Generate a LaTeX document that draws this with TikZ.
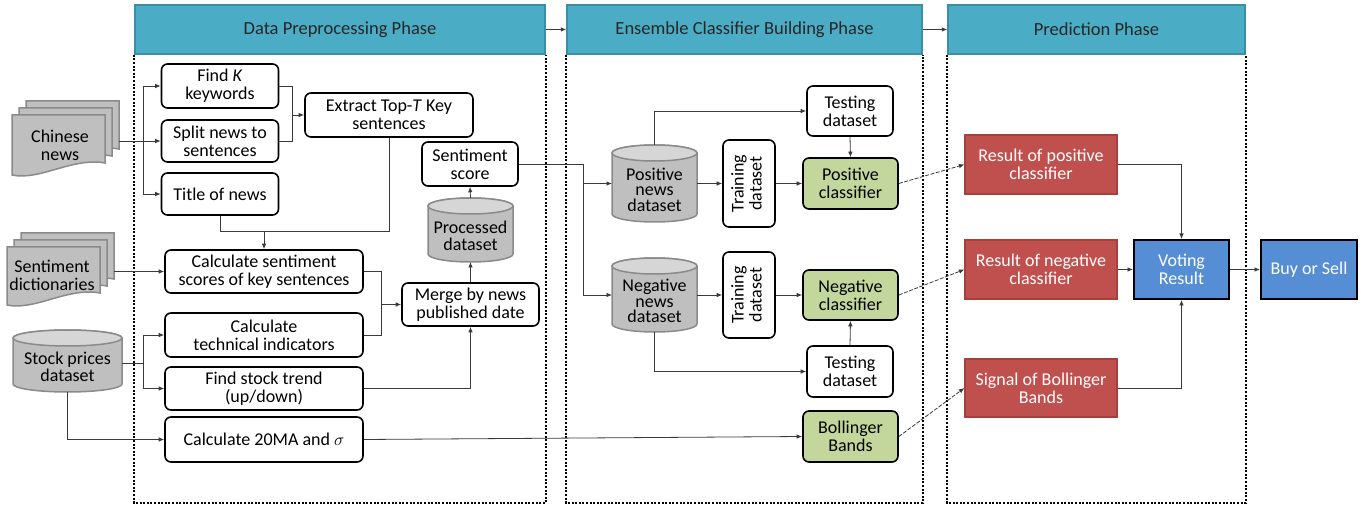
\documentclass[tikz,border=0pt]{standalone}
\usepackage{fontspec}
\setmainfont{Carlito}
\usetikzlibrary{arrows.meta,calc}
\definecolor{hdrfill}{HTML}{4BACC6}
\definecolor{hdrdraw}{HTML}{3A8EA5}
\definecolor{clfgreen}{HTML}{C3D69B}
\definecolor{resred}{HTML}{C0504D}
\definecolor{resborder}{HTML}{A5403D}
\definecolor{voteblue}{HTML}{558ED5}
\definecolor{cylgray}{HTML}{BFBFBF}
\definecolor{cyltopgray}{HTML}{D6D6D6}
\definecolor{cylborder}{HTML}{8A8A8A}
\definecolor{linegray}{HTML}{3A3A3A}
\newcommand\cylnode[6]{%
  \node[cylanchor, minimum width=#4pt, minimum height=#5pt] (#1) at (#2,#3) {};
  \path[cylbody] ([yshift=-8pt]#1.north west) -- ([yshift=8pt]#1.south west)
     arc[start angle=180, end angle=360, x radius=#4/2, y radius=8]
     -- ([yshift=-8pt]#1.north east)
     arc[start angle=0, end angle=180, x radius=#4/2, y radius=8] -- cycle;
  \path[cyltop] ([yshift=-8pt]#1.north) ellipse[x radius=#4/2, y radius=8];
  \node[cyltext] (#1-t) at ([yshift=-6pt]#1.center) {#6};
}
\newcommand\onedoc[4]{% left, top, width, height
  \path[docshape] (#1,#2) -- ({#1+#3},#2) -- ({#1+#3},{#2-#4+12})
    .. controls ({#1+0.65*#3},{#2-#4+18}) and ({#1+0.3*#3},{#2-#4-6}) .. (#1,{#2-#4}) -- cycle;
}
\newcommand\docstack[7]{% name, left, top, width, height, text x, text y
  \node[cylanchor, minimum width={#4+14}, minimum height={#5+14}, anchor=north west] (#1) at (#2,{#3+14}) {};
  \onedoc{#2+14}{#3+14}{#4}{#5}
  \onedoc{#2+7}{#3+7}{#4}{#5}
  \onedoc{#2}{#3}{#4}{#5}
  \node[doctext] (#1-t) at (#6,#7)
}
\begin{document}
\begin{tikzpicture}[x=1pt,y=1pt,
  txt/.style={font=\fontsize{18}{18}\selectfont, align=center, inner sep=1pt},
  wbox/.style={txt, draw=black, line width=1.6pt, rounded corners=6pt, fill=white},
  gbox/.style={wbox, fill=clfgreen},
  rbox/.style={txt, draw=resborder, line width=1.2pt, fill=resred, text=white},
  bluebox/.style={txt, draw=black, line width=2pt, fill=voteblue, text=white},
  hdr/.style={txt, font=\fontsize{18.5}{19}\selectfont, draw=hdrdraw, line width=1.5pt, fill=hdrfill, text=black!85},
  phase/.style={draw=black, line width=2pt, dash pattern=on 2pt off 1.6pt},
  conn/.style={draw=linegray, line width=0.8pt},
  arr/.style={conn, -{Latex[length=5.5pt,width=4.5pt]}},
  darr/.style={arr, dash pattern=on 4pt off 1.5pt},
  cylanchor/.style={inner sep=0pt, outer sep=0pt, draw=none},
  cylbody/.style={fill=cylgray, draw=cylborder, line width=1.5pt},
  cyltop/.style={fill=cyltopgray, draw=cylborder, line width=1.5pt},
  docshape/.style={fill=cylgray, draw=cylborder, line width=1.5pt},
  cyltext/.style={font=\fontsize{18}{15.5}\selectfont, align=center, inner sep=0pt},
  doctext/.style={font=\fontsize{18}{18}\selectfont, align=center, inner sep=0pt},
]
\useasboundingbox (0,0) rectangle (1371,-510);

% phase headers
\node[hdr, minimum width=410pt, minimum height=49pt] (h1) at (340,-29.5) {Data Preprocessing Phase};
\node[hdr, minimum width=355pt, minimum height=49pt] (h2) at (744.5,-29.5) {Ensemble Classifier Building Phase};
\node[hdr, minimum width=297pt, minimum height=49pt] (h3) at (1096.5,-29.5) {Prediction Phase};
\draw[phase] (h1.south west) -- (h1.south west |- 0,-503) -| (h1.south east);
\draw[phase] (h2.south west) -- (h2.south west |- 0,-503) -| (h2.south east);
\draw[phase] (h3.south west) -- (h3.south west |- 0,-503) -| (h3.south east);
\draw[arr] (h1.east) -- (h2.west);
\draw[arr] (h2.east) -- (h3.west);

% inputs
\docstack{cn}{12}{-115}{93}{60}{60}{-145}{Chinese\\news};
\docstack{sd}{7}{-247}{93}{58}{52}{-275}{Sentiment\\dictionaries};
\cylnode{stock}{67.5}{-361}{109}{62}{Stock prices\\[2pt]dataset}

% preprocessing
\node[wbox, minimum width=117pt, minimum height=44pt] (findk) at (220,-86) {Find \textit{K}\\keywords};
\node[wbox, minimum width=117pt, minimum height=42pt] (split) at (220,-141) {Split news to\\sentences};
\node[wbox, minimum width=117pt, minimum height=42pt] (title) at (220,-194) {Title of news};
\node[wbox, minimum width=168pt, minimum height=44pt] (extract) at (389,-115) {Extract Top-\textit{T} Key\\sentences};
\node[wbox, minimum width=96pt, minimum height=44pt] (score) at (470,-164) {Sentiment\\score};
\cylnode{proc}{470.5}{-230}{85}{64}{Processed\\[2pt]dataset}
\node[wbox, minimum width=198pt, minimum height=43pt] (calcsent) at (264,-271.5) {Calculate sentiment\\scores of key sentences};
\node[wbox, minimum width=137pt, minimum height=43pt] (merge) at (470.5,-304.5) {Merge by news\\published date};
\node[wbox, minimum width=198pt, minimum height=44pt] (calctech) at (264,-335) {Calculate\\technical indicators};
\node[wbox, minimum width=198pt, minimum height=43pt] (trend) at (264,-388.5) {Find stock trend\\(up/down)};
\node[wbox, minimum width=198pt, minimum height=45pt] (calc20) at (264,-439.5) {Calculate 20MA and $\sigma$};

% ensemble
\node[wbox, minimum width=86pt, minimum height=50pt] (testtop) at (850,-111) {Testing\\dataset};
\cylnode{pos}{654.5}{-183.5}{85}{77}{Positive\\news\\dataset}
\node[wbox, minimum width=52pt, minimum height=87pt] (trainpos) at (749,-183.5) {\rotatebox{90}{\begin{tabular}{@{}c@{}}Training\\dataset\end{tabular}}};
\node[gbox, minimum width=95pt, minimum height=51pt] (posclf) at (850.5,-183.5) {Positive\\classifier};
\cylnode{neg}{654.5}{-295}{85}{74}{Negative\\news\\dataset}
\node[wbox, minimum width=52pt, minimum height=86pt] (trainneg) at (749,-295) {\rotatebox{90}{\begin{tabular}{@{}c@{}}Training\\dataset\end{tabular}}};
\node[gbox, minimum width=95pt, minimum height=50pt] (negclf) at (850.5,-295) {Negative\\classifier};
\node[wbox, minimum width=86pt, minimum height=51pt] (testbot) at (850,-371.5) {Testing\\dataset};
\node[gbox, minimum width=95pt, minimum height=51pt] (boll) at (850.5,-436.5) {Bollinger\\Bands};

% prediction
\node[rbox, minimum width=152pt, minimum height=59pt] (respos) at (1041,-164.5) {Result of positive\\classifier};
\node[rbox, minimum width=152pt, minimum height=59pt] (resneg) at (1041,-269.5) {Result of negative\\classifier};
\node[rbox, minimum width=152pt, minimum height=58pt] (signal) at (1041,-388) {Signal of Bollinger\\Bands};
\node[bluebox, minimum width=95pt, minimum height=59pt] (voting) at (1181.5,-269.5) {Voting\\Result};
\node[bluebox, minimum width=96pt, minimum height=59pt] (buy) at (1309,-269.5) {Buy or Sell};

% connectors: preprocessing
\coordinate (br1) at (143,-141);
\draw[arr] (cn.east |- split.west) -- (split.west);
\draw[arr] (br1) |- (findk.west);
\draw[arr] (br1) |- (title.west);
\coordinate (m1) at ([xshift=-12pt]extract.west);
\draw[conn] (findk.east) -| (m1) |- (split.east);
\draw[arr] (m1) -- (extract.west);
\coordinate (j2) at ([yshift=18pt]calcsent.north);
\draw[conn] (title.south) |- (j2) -| (extract.south);
\draw[arr] (j2) -- (calcsent.north);
\draw[arr] (sd.east |- calcsent.west) -- (calcsent.west);
\coordinate (br2) at (143,-363);
\draw[conn] (stock.east |- br2) -- (br2);
\draw[arr] (br2) |- (calctech.west);
\draw[arr] (br2) |- (trend.west);
\draw[arr] (stock.south) |- (calc20.west);
\coordinate (m2) at ([xshift=-20pt]merge.west);
\draw[conn] (calcsent.east) -| (m2) |- (calctech.east);
\draw[arr] (m2) -- (merge.west);
\draw[arr] (trend.east) -| (merge.south);
\draw[arr] (merge.north) -- (proc.south);
\draw[arr] (proc.north) -- (score.south);

% connectors: ensemble
\coordinate (m3) at ([xshift=-29pt]neg.west);
\draw[conn] (score.east) -| (m3);
\draw[arr] (m3) -- (neg.west);
\draw[arr] (pos.west -| m3) -- (pos.west);
\draw[arr] (pos.north) |- (testtop.west);
\draw[arr] (pos.east) -- (trainpos.west);
\draw[arr] (trainpos.east) -- (posclf.west);
\draw[arr] (testtop.south) -- (posclf.north);
\draw[arr] (neg.east) -- (trainneg.west);
\draw[arr] (trainneg.east) -- (negclf.west);
\draw[arr] (neg.south) |- (testbot.west);
\draw[arr] (testbot.north) -- (negclf.south);
\draw[arr] (calc20.east) -- (boll.west);

% connectors: prediction
\draw[darr] (posclf.east) -- (respos.west);
\draw[darr] (negclf.east) -- (resneg.west);
\draw[darr] (boll.east) -- (signal.west);
\draw[arr] (respos.east) -| (voting.north);
\draw[arr] (resneg.east) -- (voting.west);
\draw[arr] (signal.east) -| (voting.south);
\draw[arr] (voting.east) -- (buy.west);
\end{tikzpicture}
\end{document}
